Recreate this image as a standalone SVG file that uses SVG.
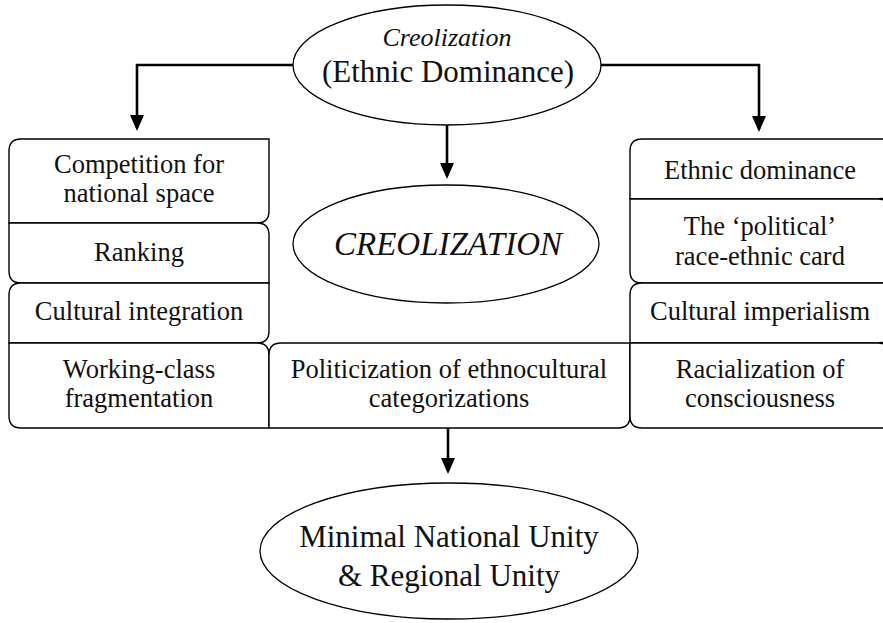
<svg xmlns="http://www.w3.org/2000/svg" width="883" height="623" viewBox="0 0 883 623" font-family="Liberation Serif">
<style>
.box{fill:#fff;stroke:#000;stroke-width:1.4}
.ell{fill:#fff;stroke:#000;stroke-width:1.3}
.t{font-size:26.5px;fill:#111;text-anchor:middle}
.big{font-size:31px}
.it{font-style:italic}
.conn{fill:none;stroke:#000;stroke-width:2.6;stroke-linecap:butt}
</style>
<defs>
<marker id="ah" viewBox="0 -7 16 14" refX="13" refY="0" markerWidth="16" markerHeight="14" markerUnits="userSpaceOnUse" orient="auto">
<path d="M0,-7 L16,0 L0,7 Z" fill="#000"/>
</marker>
</defs>
<rect width="883" height="623" fill="#fff"/>

<g id="connectors">
<path class="conn" d="M293 65 H137 V128" marker-end="url(#ah)"/>
<path class="conn" d="M600 65 H759 V129" marker-end="url(#ah)"/>
<path class="conn" d="M447 125 V176" marker-end="url(#ah)"/>
<path class="conn" d="M448 428 V471" marker-end="url(#ah)"/>
</g>

<g id="top">
<ellipse class="ell" cx="447" cy="65" rx="154" ry="60"/>
<text class="t it" x="447" y="46" style="font-size:26px">Creolization</text>
<text class="t big" x="448" y="82">(Ethnic Dominance)</text>
</g>

<g id="creolization">
<ellipse class="ell" cx="446" cy="244" rx="153" ry="59"/>
<text class="t it" x="448" y="255" style="font-size:33px">CREOLIZATION</text>
</g>

<g id="unity">
<ellipse class="ell" cx="449" cy="551" rx="189" ry="68"/>
<text class="t big" x="449" y="547">Minimal National Unity</text>
<text class="t big" x="449" y="586">&amp; Regional Unity</text>
</g>

<g id="competition">
<path class="box" d="M21 139 H269 V211 Q269 223 257 223 H9 V151 Q9 139 21 139 Z"/>
<text class="t" x="139" y="173">Competition for</text>
<text class="t" x="139" y="202">national space</text>
</g>
<g id="ranking">
<path class="box" d="M9 223 H257 Q269 223 269 235 V283 H21 Q9 283 9 271 Z"/>
<text class="t" x="139" y="261">Ranking</text>
</g>
<g id="cultural-integration">
<path class="box" d="M21 283 H269 V331 Q269 343 257 343 H9 V295 Q9 283 21 283 Z"/>
<text class="t" x="139" y="320">Cultural integration</text>
</g>
<g id="working-class">
<path class="box" d="M9 343 H257 Q269 343 269 355 V428 H21 Q9 428 9 416 Z"/>
<text class="t" x="139" y="378">Working-class</text>
<text class="t" x="139" y="407">fragmentation</text>
</g>

<g id="politicization">
<path class="box" d="M281 343 H630 V416 Q630 428 618 428 H269 V355 Q269 343 281 343 Z"/>
<text class="t" x="449" y="378">Politicization of  ethnocultural</text>
<text class="t" x="449" y="407">categorizations</text>
</g>

<g id="ethnic-dominance">
<path class="box" d="M642 139 H890 V187 Q890 199 878 199 H630 V151 Q630 139 642 139 Z"/>
<text class="t" x="760" y="179">Ethnic dominance</text>
</g>
<g id="political-card">
<path class="box" d="M630 199 H878 Q890 199 890 211 V283 H642 Q630 283 630 271 Z"/>
<text class="t" x="760" y="235">The ‘political’</text>
<text class="t" x="760" y="265">race-ethnic card</text>
</g>
<g id="cultural-imperialism">
<path class="box" d="M642 283 H890 V331 Q890 343 878 343 H630 V295 Q630 283 642 283 Z"/>
<text class="t" x="760" y="320">Cultural imperialism</text>
</g>
<g id="racialization">
<path class="box" d="M630 343 H878 Q890 343 890 355 V428 H642 Q630 428 630 416 Z"/>
<text class="t" x="760" y="378">Racialization of</text>
<text class="t" x="760" y="407">consciousness</text>
</g>
</svg>
